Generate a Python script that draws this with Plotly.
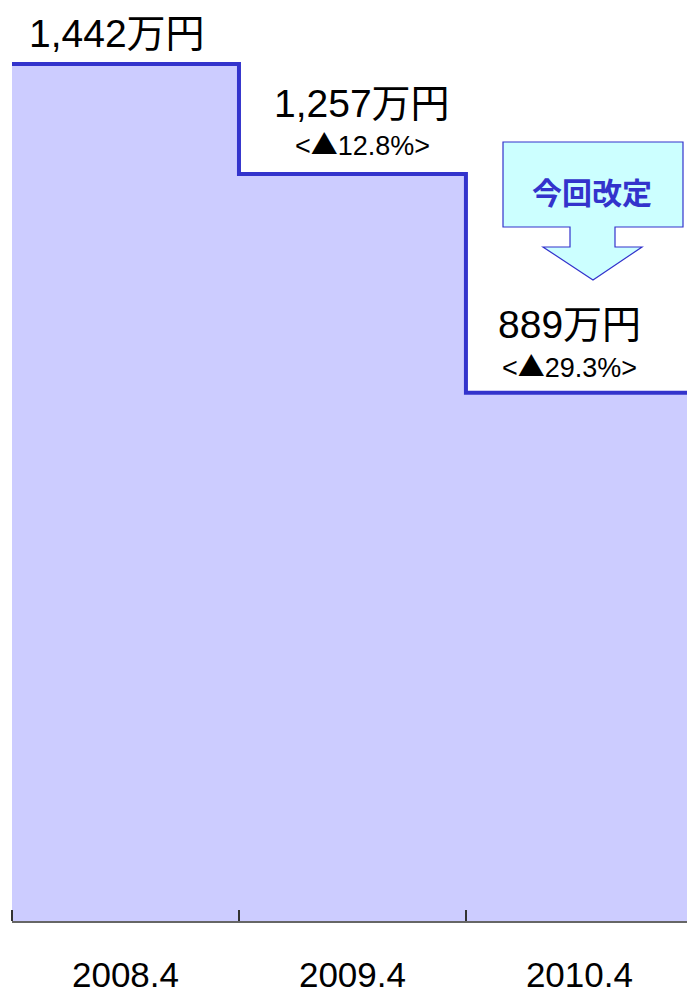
import plotly.graph_objects as go

# ---- data ----
periods = ["2008.4", "2009.4", "2010.4"]
amounts = [1442, 1257, 889]          # 万円
amount_labels = ["1,442万円", "1,257万円", "889万円"]
change_labels = ["", "<▲12.8%>", "<▲29.3%>"]
callout_text = "今回改定"

# ---- layout helpers (pixels of the 687x996 page) ----
W, H = 687, 996
L, R, T, B = 12, 0, 0, 75
PW, PH = W - L - R, H - T - B
X_MAX = 2.974   # last period is cut off by the right edge


def px(x):
    return (x - L) / PW


def py(y):
    return (H - B - y) / PH


def fmt_change(s):
    s = s.replace("<", "&lt;").replace(">", "&gt;")
    return s.replace("▲", "<span style='font-family:Noto Sans CJK JP'>▲</span>")


xs = list(range(len(amounts) + 1))
ys = amounts + [amounts[-1]]

fig = go.Figure()
fig.add_trace(go.Scatter(
    x=xs, y=ys, mode="lines", line_shape="hv",
    line=dict(color="#3333CC", width=4),
    fill="tozeroy", fillcolor="#CCCCFF",
    hoverinfo="skip", showlegend=False,
))

num_font = "Liberation Sans, Arial, Noto Sans CJK JP"
amount_dy = [31, 70, 68]
amount_dx = [-8, 10, -10]
change_dy = [0, 30, 27]
change_dx = [0, 10, -10]

annotations = []
for i, (v, lab, ch) in enumerate(zip(amounts, amount_labels, change_labels)):
    annotations.append(dict(
        x=i + 0.5, y=v, xref="x", yref="y", text=lab, showarrow=False,
        yanchor="middle", xanchor="center", yshift=amount_dy[i], xshift=amount_dx[i],
        font=dict(family=num_font, size=39, color="black"),
    ))
    if ch:
        annotations.append(dict(
            x=i + 0.5, y=v, xref="x", yref="y", text=fmt_change(ch), showarrow=False,
            yanchor="middle", xanchor="center", yshift=change_dy[i], xshift=change_dx[i],
            font=dict(family=num_font, size=27, color="black"),
        ))

annotations.append(dict(
    x=px(592), y=py(191), xref="paper", yref="paper", text="<b>" + callout_text + "</b>",
    showarrow=False, xanchor="center", yanchor="middle",
    font=dict(family="Noto Sans CJK JP", size=30, color="#3333CC"),
))

pts = [(503, 142), (683, 142), (683, 227), (615, 227), (615, 247), (642, 247),
       (593, 280), (543, 247), (570, 247), (570, 227), (503, 227)]
path = "M " + " L ".join(f"{px(a):.5f},{py(b):.5f}" for a, b in pts) + " Z"

fig.update_layout(
    width=W, height=H,
    margin=dict(l=L, r=R, t=T, b=B, pad=0, autoexpand=False),
    paper_bgcolor="white", plot_bgcolor="white",
    showlegend=False,
    annotations=annotations,
    shapes=[dict(type="path", path=path, xref="paper", yref="paper",
                 fillcolor="#CCFFFF", line=dict(color="#3333CC", width=1.2))],
    xaxis=dict(
        range=[0, X_MAX], showgrid=False, zeroline=False, automargin=False,
        showline=True, linecolor="#666666", linewidth=2,
        tickvals=[i + 0.5 for i in range(len(periods))], ticktext=periods,
        ticks="", ticklabelstandoff=22,
        tickfont=dict(family="Liberation Sans, Arial", size=35, color="black"),
        minor=dict(tick0=0, dtick=1, ticks="inside", ticklen=11,
                   tickcolor="#333333", tickwidth=1.5, showgrid=False),
        fixedrange=True,
    ),
    yaxis=dict(range=[0, PH / 0.5943], visible=False, fixedrange=True, automargin=False),
)

fig.write_html("out.html", config={"displayModeBar": False},
               post_script="document.body.style.margin='0';document.body.style.overflow='hidden';")
